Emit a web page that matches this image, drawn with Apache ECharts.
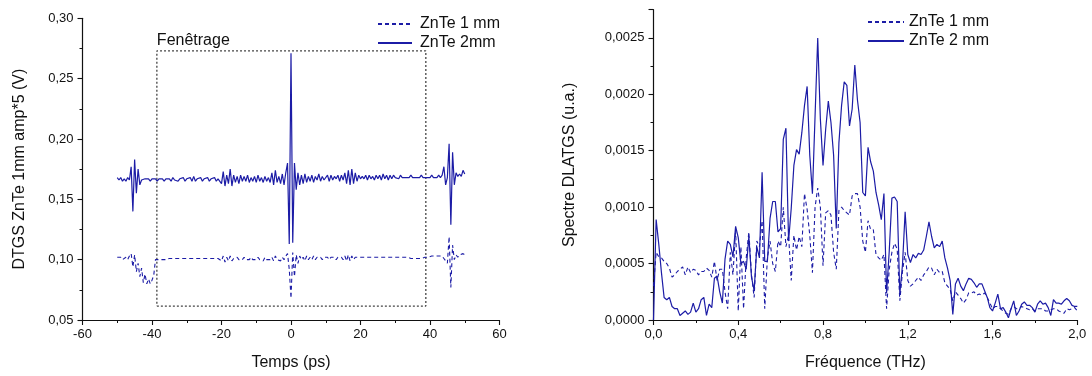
<!DOCTYPE html>
<html>
<head>
<meta charset="utf-8">
<script src="https://cdn.jsdelivr.net/npm/echarts@6/dist/echarts.min.js"></script>
<style>
html,body{margin:0;padding:0;background:#fff;}
#main{width:1092px;height:376px;}
</style>
</head>
<body>
<div id="main"></div>
<script>
// ---- Time-domain panel (left) ----
const timeStart = -50;      // ps
const timeStep = 0.5;       // ps
const tickTime = [-60, -40, -20, 0, 20, 40, 60];
const trace2mm = [
.168,.166,.168,.165,.167,.165,.168,.166,.177,.140,
.183,.155,.175,.162,.166,.165,.167,.166,.167,.165,
.167,.166,.167,.165,.167,.166,.167,.165,.167,.166,
.167,.165,.168,.166,.167,.165,.167,.166,.168,.165,
.167,.166,.168,.165,.169,.165,.167,.166,.168,.165,
.167,.166,.168,.165,.167,.166,.168,.165,.167,.166,
.163,.173,.161,.170,.163,.175,.161,.170,.164,.169,
.163,.170,.165,.169,.165,.170,.164,.168,.165,.169,
.164,.170,.165,.168,.164,.169,.165,.168,.164,.172,
.162,.174,.164,.169,.163,.171,.162,.172,.180,.113,
.271,.114,.180,.158,.172,.162,.170,.163,.171,.164,
.169,.165,.170,.164,.169,.166,.171,.165,.169,.166,
.166,.170,.165,.170,.166,.169,.167,.170,.165,.170,
.166,.172,.163,.174,.162,.175,.163,.172,.165,.170,
.167,.169,.167,.170,.166,.170,.167,.169,.166,.170,
.167,.170,.166,.171,.167,.170,.166,.170,.167,.170,
.168,.169,.167,.170,.168,.169,.168,.169,.168,.170,
.168,.169,.168,.169,.168,.170,.168,.169,.168,.169,
.168,.170,.168,.169,.168,.170,.168,.170,.177,.162,
.168,.196,.129,.189,.162,.172,.169,.171,.169,.174,
.171];
const trace1mm = [
.102,.101,.102,.100,.101,.102,.100,.103,.105,.094,
.104,.090,.097,.086,.093,.081,.088,.080,.084,.080,
.083,.087,.100,.101,.100,.101,.100,.101,.100,.101,
.101,.100,.101,.100,.101,.100,.101,.100,.101,.100,
.101,.100,.101,.100,.101,.100,.101,.100,.101,.100,
.101,.100,.101,.100,.101,.100,.101,.100,.101,.100,
.099,.103,.098,.102,.099,.103,.099,.101,.100,.102,
.100,.101,.100,.102,.100,.101,.100,.102,.100,.101,
.100,.102,.100,.101,.099,.102,.100,.101,.100,.102,
.099,.103,.100,.101,.099,.102,.100,.103,.105,.092,
.068,.106,.086,.104,.097,.103,.100,.102,.099,.103,
.100,.102,.100,.103,.100,.102,.101,.102,.100,.102,
.101,.102,.100,.102,.101,.102,.100,.102,.101,.102,
.100,.103,.099,.104,.099,.103,.100,.102,.101,.102,
.101,.102,.101,.102,.101,.102,.101,.102,.101,.102,
.101,.102,.101,.102,.101,.102,.101,.102,.101,.102,
.101,.102,.101,.102,.101,.102,.101,.102,.102,.101,
.102,.101,.102,.101,.102,.101,.102,.102,.101,.102,
.102,.103,.102,.103,.102,.103,.102,.103,.101,.100,
.097,.119,.077,.112,.100,.104,.102,.104,.103,.105,
.104];
const windowT = [-38.6, 38.8];     // Fenêtrage box (ps)
const windowV = [0.0615, 0.273];   // Fenêtrage box (V)

// ---- Spectrum panel (right) ----
const freqStep = 0.0125;    // THz
const tickFreq = [0, 0.4, 0.8, 1.2, 1.6, 2.0];
const spec2mm = [
0,8.9e-4,6.7e-4,4.2e-4,2.0e-4,1.8e-4,2.0e-4,1.2e-4,1.0e-4,1.0e-4,
0.4e-4,0.6e-4,0.8e-4,0.5e-4,0.7e-4,1.5e-4,0.7e-4,1.0e-4,1.8e-4,2.0e-4,
0.4e-4,1.4e-4,1.1e-4,3.7e-4,3.9e-4,2.5e-4,1.5e-4,5.4e-4,7.0e-4,6.7e-4,
5.6e-4,8.3e-4,7.3e-4,5.0e-4,5.2e-4,4.5e-4,7.4e-4,3.8e-4,2.6e-4,6.5e-4,
5.5e-4,13.1e-4,5.2e-4,5.2e-4,9.0e-4,10.5e-4,10.5e-4,7.8e-4,8.1e-4,16.0e-4,
17.0e-4,7.0e-4,9.9e-4,13.7e-4,15.1e-4,14.7e-4,16.6e-4,19.0e-4,20.7e-4,14.6e-4,
11.2e-4,18.1e-4,25.0e-4,17.8e-4,13.7e-4,16.9e-4,19.4e-4,17.5e-4,14.6e-4,8.1e-4,
15.7e-4,19.0e-4,21.1e-4,20.8e-4,17.2e-4,18.7e-4,22.6e-4,19.5e-4,17.5e-4,11.3e-4,
11.0e-4,15.3e-4,14.0e-4,13.2e-4,11.3e-4,10.2e-4,8.9e-4,11.2e-4,2.4e-4,6.1e-4,
10.8e-4,10.9e-4,10.5e-4,2.3e-4,4.9e-4,9.6e-4,5.8e-4,5.1e-4,5.8e-4,5.5e-4,
5.9e-4,5.8e-4,6.2e-4,7.4e-4,8.7e-4,7.4e-4,6.4e-4,6.7e-4,6.5e-4,7.0e-4,
5.5e-4,4.6e-4,3.5e-4,0.5e-4,3.2e-4,3.7e-4,3.0e-4,2.6e-4,3.2e-4,3.7e-4,
3.6e-4,3.3e-4,2.9e-4,3.2e-4,3.2e-4,2.6e-4,2.0e-4,1.1e-4,0.8e-4,1.5e-4,
2.3e-4,1.0e-4,1.1e-4,0.7e-4,0.2e-4,1.0e-4,1.7e-4,0.4e-4,0.8e-4,1.4e-4,
1.6e-4,1.3e-4,1.3e-4,1.1e-4,0.7e-4,1.4e-4,1.7e-4,1.4e-4,1.5e-4,1.1e-4,
0.4e-4,1.8e-4,1.5e-4,1.5e-4,1.4e-4,1.7e-4,1.9e-4,1.7e-4,1.3e-4,1.2e-4,
1.2e-4];
const spec1mm = [
3.0e-4,6.0e-4,5.6e-4,5.5e-4,5.2e-4,5.0e-4,4.6e-4,3.8e-4,4.0e-4,4.3e-4,
4.5e-4,4.7e-4,4.0e-4,4.7e-4,4.2e-4,4.5e-4,4.4e-4,4.0e-4,4.3e-4,4.3e-4,
4.6e-4,4.4e-4,3.8e-4,5.2e-4,3.5e-4,4.5e-4,4.5e-4,2.5e-4,1.0e-4,6.0e-4,
4.0e-4,8.0e-4,0.8e-4,6.5e-4,1.0e-4,5.5e-4,7.8e-4,4.0e-4,2.0e-4,7.0e-4,
6.5e-4,8.8e-4,1.0e-4,5.5e-4,7.0e-4,5.0e-4,4.3e-4,7.0e-4,6.5e-4,10.0e-4,
6.5e-4,7.5e-4,3.5e-4,7.5e-4,6.2e-4,7.4e-4,6.5e-4,11.2e-4,9.8e-4,7.5e-4,
4.2e-4,10.0e-4,11.7e-4,10.0e-4,4.8e-4,9.5e-4,9.7e-4,9.3e-4,6.0e-4,4.5e-4,
9.7e-4,10.0e-4,9.7e-4,9.5e-4,9.3e-4,11.0e-4,11.2e-4,11.2e-4,10.0e-4,7.0e-4,
6.0e-4,8.8e-4,8.0e-4,8.0e-4,5.8e-4,5.5e-4,5.3e-4,5.8e-4,1.0e-4,4.5e-4,
6.0e-4,6.8e-4,6.3e-4,1.7e-4,4.3e-4,6.0e-4,3.5e-4,3.0e-4,3.2e-4,3.5e-4,
3.8e-4,3.5e-4,4.0e-4,4.3e-4,4.7e-4,4.6e-4,4.0e-4,4.5e-4,4.2e-4,4.3e-4,
3.3e-4,3.0e-4,2.7e-4,1.7e-4,2.5e-4,2.2e-4,1.9e-4,1.5e-4,1.8e-4,2.4e-4,
2.4e-4,2.5e-4,2.2e-4,2.3e-4,2.2e-4,2.4e-4,2.0e-4,1.5e-4,1.0e-4,1.2e-4,
1.2e-4,1.0e-4,0.8e-4,0.6e-4,0.5e-4,1.0e-4,1.2e-4,1.0e-4,1.0e-4,1.2e-4,
1.1e-4,1.0e-4,0.9e-4,1.0e-4,0.8e-4,1.0e-4,1.0e-4,1.0e-4,0.8e-4,0.8e-4,
0.9e-4,1.0e-4,1.0e-4,0.8e-4,0.7e-4,0.6e-4,1.0e-4,0.9e-4,1.0e-4,1.1e-4,
0.8e-4];

const FONT = 'Arial, "Liberation Sans", sans-serif';
const INK = '#111';
const BLUE = '#1c1ca6';

const timePairs = arr => arr.map((v, i) => [timeStart + i * timeStep, v]);
const freqPairs = arr => arr.map((v, i) => [i * freqStep, v]);
const comma = d => v => v.toFixed(d).replace('.', ',');

function axisBase(extra) {
  return Object.assign({
    type: 'value',
    axisLine: { show: true, onZero: false, lineStyle: { color: INK, width: 1.2 } },
    axisTick: { show: true, inside: false, length: 5, lineStyle: { color: INK, width: 1.1 } },
    minorTick: { show: true, splitNumber: 2, length: 3, lineStyle: { color: INK, width: 1 } },
    splitLine: { show: false },
    minorSplitLine: { show: false },
    axisLabel: { color: INK, fontSize: 13, fontFamily: FONT, margin: 8 },
    nameLocation: 'middle',
    nameTextStyle: { color: INK, fontSize: 16, fontFamily: FONT }
  }, extra);
}

const chart = echarts.init(document.getElementById('main'), null, { renderer: 'canvas' });

const rectData = [
  [windowT[0], windowV[0]], [windowT[1], windowV[0]], [windowT[1], windowV[1]],
  [windowT[0], windowV[1]], [windowT[0], windowV[0]]
];

const hiddenSymbol = { color: 'rgba(0,0,0,0)', borderColor: 'rgba(0,0,0,0)', borderWidth: 0, opacity: 0 };
const DASH = [4, 3];

chart.setOption({
  animation: false,
  backgroundColor: '#fff',
  textStyle: { fontFamily: FONT },
  grid: [
    { left: 82.5, right: 592.5, top: 18.3, bottom: 52 },
    { left: 653.5, right: 14.7, top: 9.7, bottom: 53.3 }
  ],
  legend: [
    {
      orient: 'vertical', left: 372, top: 11, itemWidth: 34, itemHeight: 12, itemGap: 3,
      itemStyle: hiddenSymbol,
      textStyle: { fontSize: 16, color: INK, fontFamily: FONT, padding: [0, 0, 0, 3] },
      data: ['ZnTe 1 mm', 'ZnTe 2mm'], selectedMode: false
    },
    {
      orient: 'vertical', left: 862, top: 9, itemWidth: 36, itemHeight: 12, itemGap: 3,
      itemStyle: hiddenSymbol,
      textStyle: { fontSize: 16, color: INK, fontFamily: FONT, padding: [0, 0, 0, 0] },
      data: ['ZnTe 1 mm ', 'ZnTe 2 mm'], selectedMode: false
    }
  ],
  xAxis: [
    axisBase({ gridIndex: 0, min: tickTime[0], max: tickTime[tickTime.length - 1], interval: 20,
      name: 'Temps (ps)', nameGap: 35,
      axisLabel: { color: INK, fontSize: 13, fontFamily: FONT, margin: 8 } }),
    axisBase({ gridIndex: 1, min: tickFreq[0], max: tickFreq[tickFreq.length - 1], interval: 0.4,
      name: 'Fréquence (THz)', nameGap: 35,
      axisLabel: { color: INK, fontSize: 13, fontFamily: FONT, margin: 8, formatter: comma(1) } })
  ],
  yAxis: [
    axisBase({ gridIndex: 0, min: 0.05, max: 0.30, interval: 0.05,
      name: 'DTGS ZnTe 1mm amp*5 (V)', nameGap: 55,
      axisLabel: { color: INK, fontSize: 13, fontFamily: FONT, margin: 9, formatter: comma(2) } }),
    axisBase({ gridIndex: 1, min: 0, max: 0.00275, interval: 0.0005,
      name: 'Spectre DLATGS (u.a.)', nameGap: 76,
      axisLabel: { color: INK, fontSize: 13, fontFamily: FONT, margin: 9, formatter: comma(4), showMaxLabel: false } })
  ],
  series: [
    {
      name: 'Fenêtrage', type: 'line', xAxisIndex: 0, yAxisIndex: 0, data: rectData,
      symbol: 'none', silent: true, z: 1,
      lineStyle: { color: '#444', width: 1.3, type: [2, 2] },
      markPoint: {
        symbol: 'circle', symbolSize: 0, silent: true,
        data: [{ coord: [windowT[0], windowV[1]] }],
        label: { show: true, formatter: 'Fenêtrage', position: 'right', distance: 0,
          offset: [0, -10], color: INK, fontSize: 16, fontFamily: FONT }
      }
    },
    {
      name: 'ZnTe 1 mm', type: 'line', xAxisIndex: 0, yAxisIndex: 0, data: timePairs(trace1mm),
      symbol: 'none', showSymbol: false, z: 2,
      lineStyle: { color: BLUE, width: 1.1, type: DASH }, itemStyle: { color: BLUE }
    },
    {
      name: 'ZnTe 2mm', type: 'line', xAxisIndex: 0, yAxisIndex: 0, data: timePairs(trace2mm),
      symbol: 'none', showSymbol: false, z: 3,
      lineStyle: { color: BLUE, width: 1.2 }, itemStyle: { color: BLUE }
    },
    {
      name: 'ZnTe 1 mm ', type: 'line', xAxisIndex: 1, yAxisIndex: 1, data: freqPairs(spec1mm),
      symbol: 'none', showSymbol: false, z: 2,
      lineStyle: { color: BLUE, width: 1.1, type: DASH }, itemStyle: { color: BLUE }
    },
    {
      name: 'ZnTe 2 mm', type: 'line', xAxisIndex: 1, yAxisIndex: 1, data: freqPairs(spec2mm),
      symbol: 'none', showSymbol: false, z: 3,
      lineStyle: { color: BLUE, width: 1.2 }, itemStyle: { color: BLUE }
    }
  ]
});
</script>
</body>
</html>
